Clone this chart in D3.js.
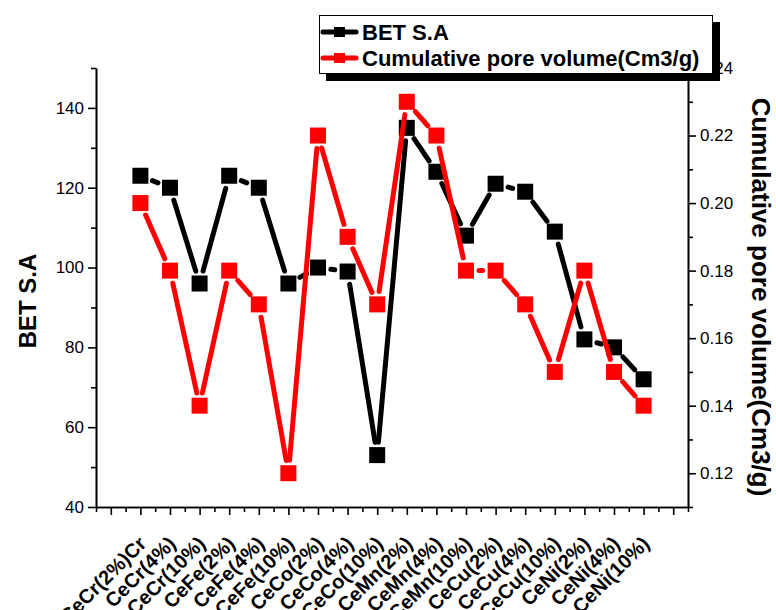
<!DOCTYPE html>
<html>
	<head>
		<meta charset="utf-8">
		<title>BET S.A and pore volume</title>
		<script src="https://d3js.org/d3.v7.min.js"></script>
		<style>
			body { margin: 0; background: #fff; }
			text { font-family: "Liberation Sans", Arial, sans-serif; }
		</style>
	</head>
	<body>
		<div id="chart"></div>
		<script>
			// values
			var categories = ["CeCr(2%)Cr", "CeCr(4%)", "CeCr(10%)", "CeFe(2%)", "CeFe(4%)", "CeFe(10%)",
				"CeCo(2%)", "CeCo(4%)", "CeCo(10%)", "CeMn(2%)", "CeMn(4%)", "CeMn(10%)",
				"CeCu(2%)", "CeCu(4%)", "CeCu(10%)", "CeNi(2%)", "CeNi(4%)", "CeNi(10%)"];
			var betValues = [123, 120, 96, 123, 120, 96, 100, 99, 53, 135, 124, 108, 121, 119, 109, 82, 80, 72];
			var poreValues = [0.20, 0.18, 0.14, 0.18, 0.17, 0.12, 0.22, 0.19, 0.17, 0.23, 0.22, 0.18, 0.18, 0.17, 0.15, 0.18, 0.15, 0.14];
			var leftTicks = [40, 60, 80, 100, 120, 140];
			var leftMinor = [50, 70, 90, 110, 130, 150];
			var rightTicks = [0.12, 0.14, 0.16, 0.18, 0.20, 0.22, 0.24];
			var rightMinor = [0.11, 0.13, 0.15, 0.17, 0.19, 0.21, 0.23];
			var seriesNames = ["BET S.A", "Cumulative pore volume(Cm3/g)"];

			function drawChart() {
				var width = 776, height = 610;
				var plotLeft = 96, plotRight = 688, plotTop = 68, plotBottom = 507;

				var svg = d3.select("#chart")
					.append("svg")
					.attr("width", width)
					.attr("height", height);

				var xScale = d3.scaleLinear().domain([-1.5, categories.length + 0.5]).range([plotLeft, plotRight]);
				var yLeft = d3.scaleLinear().domain([40, 150]).range([plotBottom, plotTop]);
				var yRight = d3.scaleLinear().domain([0.11, 0.24]).range([plotBottom, plotTop]);

				var xMajor = d3.range(-1, categories.length + 1);
				var xMinor = d3.range(-1.5, categories.length + 1, 1);

				function styleAxis(g) {
					g.selectAll("path").attr("stroke-width", 1.6);
					g.selectAll("line").attr("stroke-width", 1.6);
				}

				// x axis
				svg.append("g").attr("transform", "translate(0," + plotBottom + ")")
					.call(d3.axisBottom(xScale).tickValues(xMinor).tickSize(5).tickSizeOuter(0).tickFormat(""))
					.call(styleAxis);
				svg.append("g").attr("transform", "translate(0," + plotBottom + ")")
					.call(d3.axisBottom(xScale).tickValues(xMajor).tickSize(8).tickSizeOuter(0).tickFormat(""))
					.call(styleAxis);

				// left axis
				svg.append("g").attr("transform", "translate(" + plotLeft + ",0)")
					.call(d3.axisLeft(yLeft).tickValues(leftMinor).tickSize(5).tickSizeOuter(0).tickFormat(""))
					.call(styleAxis);
				var gl = svg.append("g").attr("transform", "translate(" + plotLeft + ",0)")
					.call(d3.axisLeft(yLeft).tickValues(leftTicks).tickSize(8).tickSizeOuter(0).tickPadding(4))
					.call(styleAxis);
				gl.selectAll("text").style("font-size", "17px").attr("fill", "#000");

				// right axis
				svg.append("g").attr("transform", "translate(" + plotRight + ",0)")
					.call(d3.axisRight(yRight).tickValues(rightMinor).tickSize(5).tickSizeOuter(0).tickFormat(""))
					.call(styleAxis);
				var gr = svg.append("g").attr("transform", "translate(" + plotRight + ",0)")
					.call(d3.axisRight(yRight).tickValues(rightTicks).tickSize(8).tickSizeOuter(0).tickPadding(4)
						.tickFormat(d3.format(".2f")))
					.call(styleAxis);
				gr.selectAll("text").style("font-size", "17px").attr("fill", "#000");

				// category labels, slanted
				categories.forEach(function(c, i) {
					var px = xScale(i) + 7, py = 545;
					svg.append("text")
						.text(c)
						.attr("x", px)
						.attr("y", py)
						.attr("text-anchor", "end")
						.attr("transform", "rotate(-45," + px + "," + py + ")")
						.style("font-size", "20px")
						.style("font-weight", "bold");
				});

				// axis titles
				svg.append("text")
					.text("BET S.A")
					.attr("text-anchor", "middle")
					.attr("transform", "translate(36,301) rotate(-90)")
					.style("font-size", "24px")
					.style("font-weight", "bold");

				svg.append("text")
					.text("Cumulative pore volume(Cm3/g)")
					.attr("text-anchor", "middle")
					.attr("transform", "translate(752,297) rotate(90)")
					.style("font-size", "26px")
					.style("font-weight", "bold");

				// lines with gaps round the markers, then the squares
				function drawSeries(values, yScale, color) {
					var pts = values.map(function(v, i) { return [xScale(i), yScale(v)]; });
					var gap = 13;
					for (var i = 0; i < pts.length - 1; i++) {
						var a = pts[i], b = pts[i + 1];
						var dx = b[0] - a[0], dy = b[1] - a[1];
						var len = Math.sqrt(dx * dx + dy * dy);
						if (len <= gap * 2) continue;
						var ux = dx / len, uy = dy / len;
						svg.append("line")
							.attr("x1", a[0] + ux * gap)
							.attr("y1", a[1] + uy * gap)
							.attr("x2", b[0] - ux * gap)
							.attr("y2", b[1] - uy * gap)
							.attr("stroke", color)
							.attr("stroke-width", 5)
							.attr("stroke-linecap", "round");
					}
					svg.selectAll(null)
						.data(pts).enter()
						.append("rect")
						.attr("x", function(d) { return d[0] - 8; })
						.attr("y", function(d) { return d[1] - 8; })
						.attr("width", 16)
						.attr("height", 16)
						.attr("fill", color);
				}

				drawSeries(betValues, yLeft, "#000");
				drawSeries(poreValues, yRight, "#ff0000");

				// legend, with its drop shadow
				var lg = svg.append("g");
				lg.append("rect")
					.attr("x", 326).attr("y", 22)
					.attr("width", 394).attr("height", 59)
					.attr("fill", "#000");
				lg.append("rect")
					.attr("x", 319.5).attr("y", 15.5)
					.attr("width", 393).attr("height", 58)
					.attr("fill", "#fff")
					.attr("stroke", "#000")
					.attr("stroke-width", 1);
				var legendColors = ["#000", "#ff0000"];
				seriesNames.forEach(function(name, i) {
					var cy = 32 + i * 26;
					lg.append("line")
						.attr("x1", 323).attr("x2", 356)
						.attr("y1", cy).attr("y2", cy)
						.attr("stroke", legendColors[i])
						.attr("stroke-width", 5)
						.attr("stroke-linecap", "round");
					lg.append("rect")
						.attr("x", 334).attr("y", cy - 5)
						.attr("width", 11).attr("height", 10)
						.attr("fill", legendColors[i]);
					lg.append("text")
						.text(name)
						.attr("x", 362)
						.attr("y", cy + 8)
						.style("font-size", "22px")
						.style("font-weight", "bold");
				});
			}

			drawChart();
		</script>
	</body>
</html>
